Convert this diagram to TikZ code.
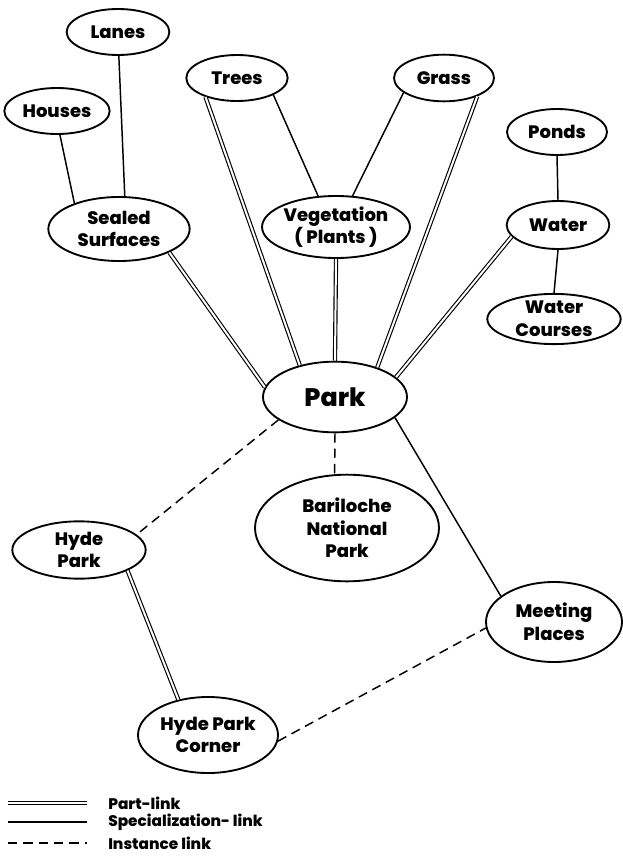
\documentclass[tikz,border=0pt]{standalone}
\usepackage{fontspec}
\setmainfont{Poppins}[BoldFont={Poppins ExtraBold}]
\usetikzlibrary{shapes.geometric}

\begin{document}
\begin{tikzpicture}[x=0.75pt, y=-0.75pt,
		concept/.style={ellipse, draw, line width=1.4pt, inner sep=0pt, align=center, font=\fontsize{13.5}{17}\selectfont\bfseries},
		speclink/.style={line width=1.1pt},
		partlink/.style={double, double distance=1.5pt, line width=0.85pt},
		instlink/.style={line width=1.1pt, dash pattern=on 7pt off 4.5pt},
		legendtext/.style={anchor=west, inner sep=0pt, font=\fontsize{11.5}{13}\selectfont\bfseries}]
		\useasboundingbox (0,0) rectangle (622,860);
		% Concepts (top row)
		\node[concept, minimum width=77pt, minimum height=34.5pt] (lanes) at (118,32) {Lanes};
		\node[concept, minimum width=79pt, minimum height=34.5pt] (houses) at (57,111) {Houses};
		\node[concept, minimum width=76pt, minimum height=34.5pt] (trees) at (237,78) {Trees};
		\node[concept, minimum width=75pt, minimum height=35pt] (grass) at (444,78) {Grass};
		\node[concept, minimum width=75pt, minimum height=34.5pt] (ponds) at (557,132) {Ponds};
		% Concepts (middle row)
		\node[concept, minimum width=106pt, minimum height=48pt] (sealed) at (119,229) {Sealed\\Surfaces};
		\node[concept, minimum width=94pt, minimum height=46.5pt] (veg) at (336,227) {Vegetation\\( Plants )};
		\node[concept, minimum width=77pt, minimum height=36pt] (water) at (558,225) {Water};
		\node[concept, minimum width=100pt, minimum height=36pt] (wcourses) at (554,319) {Water\\Courses};
		% Park
		\node[concept, minimum width=108pt, minimum height=53pt, font=\fontsize{19}{22}\selectfont\bfseries] (park) at (335,397) {Park};
		% Instances
		\node[concept, minimum width=138pt, minimum height=80pt] (bari) at (347,528) {Bariloche\\National\\Park};
		\node[concept, minimum width=100pt, minimum height=43pt] (hyde) at (79,550) {Hyde\\Park};
		\node[concept, minimum width=105pt, minimum height=57pt] (corner) at (208,735) {Hyde Park\\Corner};
		\node[concept, minimum width=102pt, minimum height=60pt] (meet) at (554,622) {Meeting\\Places};
		% Specialization links
		\draw[speclink] (houses.277) -- (sealed.150);
		\draw[speclink] (lanes.272) -- (sealed.80);
		\draw[speclink] (trees.335) -- (veg.120);
		\draw[speclink] (grass.200) -- (veg.62);
		\draw[speclink] (ponds.south) -- (water.north);
		\draw[speclink] (water.south) -- (wcourses.north);
		\draw[speclink] (park.341) -- (meet.154);
		% Part links
		\draw[partlink] (sealed.335) -- (park.172);
		\draw[partlink] (trees.211) -- (park.138);
		\draw[partlink] (veg.south) -- (park.north);
		\draw[partlink] (grass.331) -- (park.35);
		\draw[partlink] (water.194) -- (park.18);
		\draw[partlink] (hyde.337) -- (corner.130);
		% Instance links
		\draw[instlink] (park.202) -- (hyde.15);
		\draw[instlink] (park.south) -- (bari.103);
		\draw[instlink] (corner.355) -- (meet.185);
		% Legend
		\coordinate (l1a) at (8,803);  \coordinate (l1b) at (87,803);
		\coordinate (l2a) at (8,822);  \coordinate (l2b) at (87,822);
		\coordinate (l3a) at (8,843);  \coordinate (l3b) at (87,843);
		\draw[partlink] (l1a) -- (l1b);
		\draw[speclink] (l2a) -- (l2b);
		\draw[instlink] (l3a) -- (l3b);
		\node[legendtext] (t1) at (108,803) {Part-link};
		\node[legendtext] (t2) at (108,822) {Specialization- link};
		\node[legendtext] (t3) at (108,843) {Instance link};
	\end{tikzpicture}
\end{document}
